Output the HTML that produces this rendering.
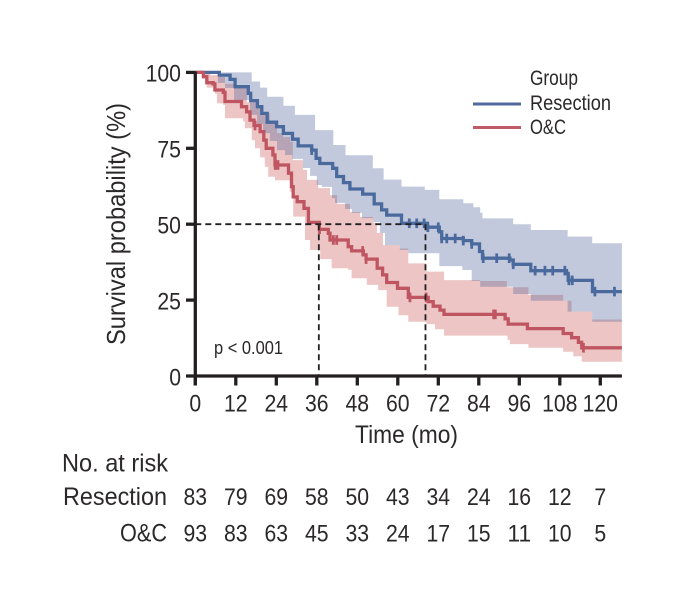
<!DOCTYPE html>
<html>
<head>
<meta charset="utf-8">
<style>
html,body{margin:0;padding:0;background:#fff;}
svg{display:block;}
text{font-family:"Liberation Sans Narrow","Liberation Sans",sans-serif;fill:#2b2829;}
</style>
</head>
<body>
<svg id="chart" xmlns="http://www.w3.org/2000/svg" width="681" height="593" viewBox="0 0 681 593">
  <g id="bands"></g>
  <g id="curves"></g>
  <g id="refs"></g>
  <g id="axes"></g>
  <g id="risk"></g>

  <text transform="translate(125,345) rotate(-90)" font-size="26" textLength="242" lengthAdjust="spacingAndGlyphs">Survival probability (%)</text>
  <text x="355" y="443" font-size="25" textLength="103" lengthAdjust="spacingAndGlyphs">Time (mo)</text>
  <text x="214" y="354" font-size="18" textLength="69" lengthAdjust="spacingAndGlyphs">p &lt; 0.001</text>

  <g>
    <text x="530" y="85" font-size="21" textLength="48" lengthAdjust="spacingAndGlyphs">Group</text>
    <line x1="473" x2="521" y1="104" y2="104" stroke="#51699b" stroke-width="3"/>
    <text x="530" y="110" font-size="21" textLength="81" lengthAdjust="spacingAndGlyphs">Resection</text>
    <line x1="473" x2="521" y1="127.5" y2="127.5" stroke="#c05a66" stroke-width="3"/>
    <text x="530" y="134" font-size="21" textLength="36" lengthAdjust="spacingAndGlyphs">O&amp;C</text>
  </g>

  <g>
    <text x="62" y="471.5" font-size="25" textLength="106" lengthAdjust="spacingAndGlyphs">No. at risk</text>
    <text x="63" y="505" font-size="25" textLength="104" lengthAdjust="spacingAndGlyphs">Resection</text>
    <text x="120" y="541.5" font-size="25" textLength="47" lengthAdjust="spacingAndGlyphs">O&amp;C</text>
  </g>
</svg>

<script>
// Chart data
const xTickLabels = [0, 12, 24, 36, 48, 60, 72, 84, 96, 108, 120];
const yTickLabels = [0, 25, 50, 75, 100];
const resectionAtRisk = [83, 79, 69, 58, 50, 43, 34, 24, 16, 12, 7];
const ocAtRisk = [93, 83, 63, 45, 33, 24, 17, 15, 11, 10, 5];
const maxTime = 126.4;
const medianSurvival = 50;
const medianResection = 68.2;
const medianOC = 36.6;

const resectionTimes = [0,7.1,10.3,11.8,15.7,16.4,18.4,19.7,21.3,24.1,26.1,28.8,30.5,34.5,35.8,36.9,40.7,41.9,43.9,45.8,49.6,53,55.2,56.7,61.1,68.75,72.3,73,79.4,81.9,84.2,85.1,93.2,94.2,99.4,110,110.5,117.7];
const resectionSurv = [100,99.1,97.7,95.3,93.1,90.7,88.7,86.5,83.6,82.1,79.9,78,75.8,74.4,71.7,70,68.4,65.7,63.7,61.6,59.9,56.7,54.7,53,50.3,49,47.5,45.3,44.6,43.5,41,38.8,38.2,36.8,34.7,33.8,31.5,27.8];
const resectionCensored = [34.5,63.4,65.6,67.8,68.9,72,73,74.5,77,79.4,81.9,85.3,89.3,93,94.2,100.7,103.6,105.9,109.5,110.7,111.7,118.4,124.2];

const resectionUpperTimes = [0,16.7,19.2,21.3,26.1,29.5,35.5,40.9,44.5,52.6,55.8,61.1,68,72.3,79.4,82.4,84.4,85.1,94.2,99.4,110.3,117.6];
const resectionUpperSurv = [100,97,95,92,89,86,81,76.1,72.7,68.4,64.7,62.4,61.3,58.2,56.9,55.6,53.8,51.9,50,48.1,45.9,43.7];
const resectionLowerTimes = [0,6.7,8.8,11.5,16.2,18.3,20.1,22.1,24.2,26.6,28.7,31.9,34,36,37.5,40.5,41.4,44.4,46.4,49.4,52.7,54.7,56.2,60.6,63.1,72.3,79.1,81.9,84.4,94.2,99.4,110.3,117.6];
const resectionLowerSurv = [100,96.5,94.9,90.9,86,83,80,77.4,74.4,72.8,71.5,68.5,65.9,62.9,62.3,58.6,57,55,53.7,52,50.7,47.1,43.1,41.5,40.4,36.2,34.9,31.3,29.4,27,24.8,21.2,17.9];

const ocTimes = [0,2.4,3.4,5.3,5.8,8.3,8.8,13.7,15.2,16.2,17.4,19.2,20.3,21,23,23.6,27.6,28.5,29,30.2,32.2,33.5,36.75,39.4,39.9,45.3,46.3,49.8,50.6,53.9,55.5,56.7,59.9,63.1,69,70.5,72.5,73.7,91.8,92.7,98.4,109,111.5,113.5,114.5];
const ocSurv = [100,98.6,96.6,96.2,94.2,93.4,90.4,88.7,87,84.3,82.5,80.5,77.7,75,72.8,69.5,66.8,62.4,59,57.4,55.2,50.6,48.3,47,44.8,42.6,41.2,39.9,38.5,35.5,33.3,30.8,28.9,25.9,24.5,23,21.7,20.3,18.8,17.1,15.6,14,12.6,11.1,9.3];
const ocCensored = [17.7,23.7,24.5,36.8,40.9,41.9,49.6,50.6,63.6,68.4,88.4,88.9,115];

const ocUpperTimes = [0,2.3,4.4,6.7,8.8,11.5,15.3,18.3,20.1,22.1,24.2,26,28.1,28.9,31.9,33.1,36.4,39.9,42,45.8,48.8,52.7,53.8,55.6,60.6,63.1,68.5,73.7,84.4,92.3,98.7,109,111.5,117.6];
const ocUpperSurv = [100,99.8,99.1,98.5,96.2,94.9,90.2,88.6,86.6,83.7,80,78.7,77.1,71.1,67.9,64.6,61.9,59.6,56.7,54,52.4,50.4,47.1,43.1,42,37.1,34.4,31.6,31.3,29.2,26.7,24.8,21.2,18.6];
const ocLowerTimes = [0,2,3.4,5.8,6.4,8.3,8.8,14.2,14.7,16.7,17.7,19.2,20.6,21.6,23.6,28,29,32.5,34,37,40.4,45.3,46.3,50.8,54.2,56.7,60.2,63.1,68.5,71,73.7,92.5,93.2,98.7,109,112,114.5];
const ocLowerSurv = [100,98,95,93,89.8,89.3,84.9,83.8,81.6,77.7,75,72,68.9,65.6,64.5,60.7,52.5,44.8,41.5,38.5,35.5,35,32.2,30,28.3,22.8,20,17.9,17.1,15.4,13.3,11.9,10.5,9.3,8,6.5,4.7];

// Axis functions
const xScale = t => 195.3 + t * 3.375;
const yScale = s => 376 - s * 3.036;
const NS = 'http://www.w3.org/2000/svg';

function make(parent, tag, attrs, text) {
  const el = document.createElementNS(NS, tag);
  for (const k in attrs) el.setAttribute(k, attrs[k]);
  if (text !== undefined) el.textContent = text;
  parent.appendChild(el);
  return el;
}

function stepForward(times, vals) {
  let d = '';
  times.forEach((t, i) => {
    if (i > 0) d += 'H' + xScale(t).toFixed(1);
    d += (i === 0 ? 'M' + xScale(t).toFixed(1) + ',' : 'V') + yScale(vals[i]).toFixed(1);
  });
  return d + 'H' + xScale(maxTime).toFixed(1);
}

function bandPath(upT, upV, loT, loV) {
  let d = stepForward(upT, upV);
  for (let i = loT.length - 1; i >= 0; i--) {
    d += 'V' + yScale(loV[i]).toFixed(1) + 'H' + xScale(loT[i]).toFixed(1);
  }
  return d + 'Z';
}

function valueAt(times, vals, t) {
  let v = vals[0];
  for (let i = 0; i < times.length; i++) { if (times[i] <= t) v = vals[i]; }
  return v;
}

const bands = document.getElementById('bands');
const curves = document.getElementById('curves');
const refs = document.getElementById('refs');
const axes = document.getElementById('axes');
const risk = document.getElementById('risk');

// Confidence bands
const ocBand = make(bands, 'path', {d: bandPath(ocUpperTimes, ocUpperSurv, ocLowerTimes, ocLowerSurv), fill: '#c44a48', 'fill-opacity': 0.32});


const resBand = make(bands, 'path', {d: bandPath(resectionUpperTimes, resectionUpperSurv, resectionLowerTimes, resectionLowerSurv), fill: '#4e6299', 'fill-opacity': 0.34});



// Survival curves
const resLine = make(curves, 'path', {d: stepForward(resectionTimes, resectionSurv), fill: 'none', stroke: '#4a6a9e', 'stroke-width': 3.3});


const ocLine = make(curves, 'path', {d: stepForward(ocTimes, ocSurv), fill: 'none', stroke: '#c05562', 'stroke-width': 3.3});



// Censor marks
resectionCensored.forEach(t => {
  const y = yScale(valueAt(resectionTimes, resectionSurv, t));
  const m = make(curves, 'line', {x1: xScale(t), x2: xScale(t), y1: y - 4.8, y2: y + 4.8, stroke: '#4a6a9e', 'stroke-width': 2.8});
  
  
});
ocCensored.forEach(t => {
  const y = yScale(valueAt(ocTimes, ocSurv, t));
  const m = make(curves, 'line', {x1: xScale(t), x2: xScale(t), y1: y - 4.8, y2: y + 4.8, stroke: '#c05562', 'stroke-width': 2.8});
  
  
});

// Median reference lines
const dash = {stroke: '#231f20', 'stroke-width': 1.8, 'stroke-dasharray': '6 4', fill: 'none'};
const refH = make(refs, 'line', Object.assign({x1: xScale(0), x2: xScale(medianResection), y1: yScale(medianSurvival), y2: yScale(medianSurvival)}, dash));


const refV1 = make(refs, 'line', Object.assign({x1: xScale(medianOC), x2: xScale(medianOC), y1: yScale(medianSurvival), y2: yScale(0)}, dash));


const refV2 = make(refs, 'line', Object.assign({x1: xScale(medianResection), x2: xScale(medianResection), y1: yScale(medianSurvival), y2: yScale(0)}, dash));



// Axes
const axisColor = '#231f20';
const yAxis = make(axes, 'line', {x1: xScale(0), x2: xScale(0), y1: yScale(100) - 1, y2: 385.5, stroke: axisColor, 'stroke-width': 3.3});


const xAxis = make(axes, 'line', {x1: xScale(0), x2: xScale(maxTime), y1: yScale(0), y2: yScale(0), stroke: axisColor, 'stroke-width': 3.3});



const digitW = 11.8;
yTickLabels.forEach(v => {
  const y = yScale(v);
  const tick = make(axes, 'line', {x1: 186, x2: xScale(0), y1: y, y2: y, stroke: axisColor, 'stroke-width': 3.3});
  
  
  const s = String(v);
  const lab = make(axes, 'text', {x: 181, y: y + 9.3, 'font-size': 24.5, 'text-anchor': 'end', textLength: s.length * digitW, lengthAdjust: 'spacingAndGlyphs'}, s);
  
  
});
xTickLabels.forEach(v => {
  const x = xScale(v);
  const tick = make(axes, 'line', {x1: x, x2: x, y1: yScale(0), y2: 385.5, stroke: axisColor, 'stroke-width': 3.3});
  
  
  const s = String(v);
  const lab = make(axes, 'text', {x: x, y: 411.5, 'font-size': 24.5, 'text-anchor': 'middle', textLength: s.length * digitW, lengthAdjust: 'spacingAndGlyphs'}, s);
  
  
});

// Risk table
xTickLabels.forEach((v, i) => {
  const x = xScale(v);
  const a = make(risk, 'text', {x: x, y: 505, 'font-size': 24.5, 'text-anchor': 'middle', textLength: String(resectionAtRisk[i]).length * digitW, lengthAdjust: 'spacingAndGlyphs'}, String(resectionAtRisk[i]));
  
  
  const b = make(risk, 'text', {x: x, y: 541.5, 'font-size': 24.5, 'text-anchor': 'middle', textLength: String(ocAtRisk[i]).length * digitW, lengthAdjust: 'spacingAndGlyphs'}, String(ocAtRisk[i]));
  
  
});
</script>
</body>
</html>
